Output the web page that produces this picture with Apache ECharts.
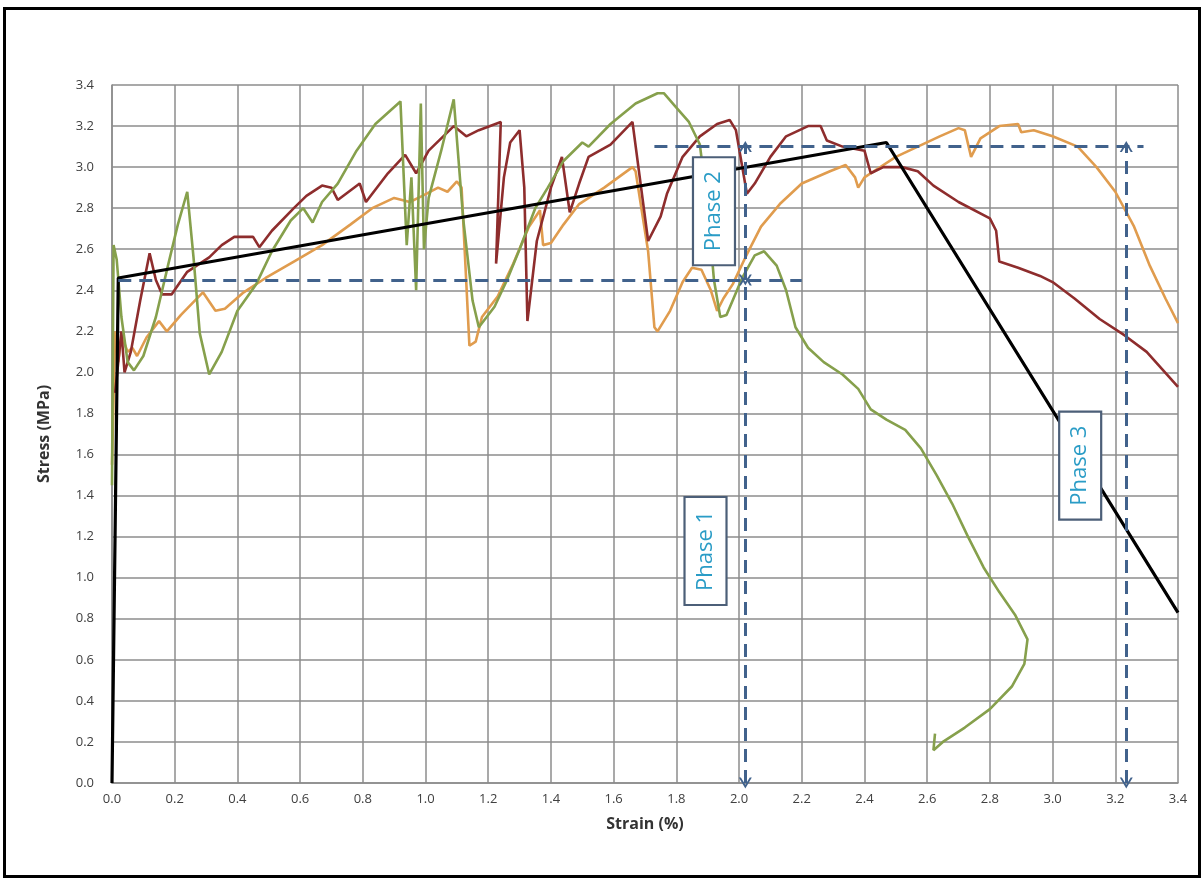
<!DOCTYPE html>
<html lang="en">
<head>
    <meta charset="UTF-8">
    <title>Stress - Strain</title>
    <style>
        body { margin: 0; background: #fff; }
    </style>
</head>
<body>
<script src="https://cdn.jsdelivr.net/npm/echarts@6/dist/echarts.min.js"></script>
<div id="main" style="width:1204px;height:878px;"></div>

<script type="text/javascript">
    // axis ticks
    var ticks = [0, 0.2, 0.4, 0.6, 0.8, 1.0, 1.2, 1.4, 1.6, 1.8, 2.0, 2.2, 2.4, 2.6, 2.8, 3.0, 3.2, 3.4];

    // specimen curves, [strain %, stress MPa]
    var greenCurve = [[0.0, 1.45], [0.005, 2.62], [0.015, 2.55], [0.03, 2.27], [0.05, 2.05], [0.07, 2.01], [0.10, 2.08],
        [0.14, 2.27], [0.18, 2.53], [0.21, 2.72], [0.24, 2.88], [0.26, 2.56], [0.28, 2.19], [0.31, 1.99], [0.35, 2.10],
        [0.40, 2.30], [0.46, 2.43], [0.51, 2.59], [0.57, 2.74], [0.61, 2.80], [0.64, 2.73], [0.67, 2.83], [0.72, 2.92],
        [0.78, 3.08], [0.84, 3.21], [0.92, 3.32], [0.94, 2.62], [0.955, 2.95], [0.97, 2.40], [0.985, 3.31], [0.995, 2.60],
        [1.01, 2.85], [1.05, 3.08], [1.09, 3.33], [1.12, 2.75], [1.15, 2.35], [1.17, 2.22], [1.22, 2.32], [1.26, 2.45],
        [1.30, 2.60], [1.35, 2.80], [1.39, 2.90], [1.44, 3.03], [1.50, 3.12], [1.52, 3.10], [1.59, 3.21], [1.67, 3.31],
        [1.74, 3.36], [1.76, 3.36], [1.80, 3.29], [1.84, 3.22], [1.875, 3.11], [1.90, 2.80], [1.92, 2.45], [1.94, 2.27],
        [1.96, 2.28], [2.01, 2.46], [2.05, 2.57], [2.08, 2.59], [2.12, 2.52], [2.15, 2.40], [2.18, 2.22], [2.22, 2.12],
        [2.27, 2.05], [2.33, 1.99], [2.38, 1.92], [2.42, 1.82], [2.47, 1.77], [2.53, 1.72], [2.58, 1.63], [2.63, 1.50],
        [2.68, 1.36], [2.73, 1.20], [2.78, 1.05], [2.83, 0.93], [2.88, 0.82], [2.92, 0.70], [2.91, 0.58], [2.87, 0.47],
        [2.80, 0.36], [2.72, 0.27], [2.65, 0.20], [2.62, 0.16], [2.625, 0.24]];

    var redCurve = [[0.01, 1.90], [0.03, 2.20], [0.04, 2.00], [0.06, 2.10], [0.09, 2.35], [0.12, 2.58], [0.14, 2.45],
        [0.16, 2.38], [0.19, 2.38], [0.24, 2.49], [0.31, 2.56], [0.35, 2.62], [0.39, 2.66], [0.45, 2.66], [0.47, 2.61],
        [0.51, 2.69], [0.58, 2.80], [0.62, 2.86], [0.67, 2.91], [0.70, 2.90], [0.72, 2.84], [0.79, 2.92], [0.81, 2.83],
        [0.88, 2.97], [0.935, 3.06], [0.97, 2.97], [1.01, 3.08], [1.09, 3.20], [1.13, 3.15], [1.17, 3.18], [1.24, 3.22],
        [1.225, 2.53], [1.25, 2.95], [1.27, 3.12], [1.30, 3.18], [1.315, 2.90], [1.325, 2.25], [1.355, 2.64], [1.40, 2.90],
        [1.435, 3.05], [1.46, 2.78], [1.49, 2.92], [1.52, 3.05], [1.59, 3.11], [1.66, 3.22], [1.71, 2.64], [1.75, 2.76],
        [1.77, 2.87], [1.82, 3.05], [1.875, 3.15], [1.93, 3.21], [1.97, 3.23], [1.99, 3.18], [2.025, 2.87], [2.05, 2.92],
        [2.10, 3.05], [2.15, 3.15], [2.22, 3.20], [2.26, 3.20], [2.28, 3.13], [2.33, 3.10], [2.40, 3.08], [2.42, 2.97],
        [2.46, 3.00], [2.52, 3.00], [2.57, 2.98], [2.62, 2.91], [2.70, 2.83], [2.80, 2.75], [2.82, 2.69], [2.83, 2.54],
        [2.89, 2.51], [2.96, 2.47], [3.00, 2.44], [3.07, 2.36], [3.15, 2.26], [3.23, 2.18], [3.30, 2.10], [3.40, 1.93]];

    var orangeCurve = [[0.0, 1.55], [0.01, 2.20], [0.02, 2.05], [0.03, 2.18], [0.05, 2.10], [0.065, 2.12], [0.08, 2.08],
        [0.11, 2.17], [0.15, 2.25], [0.175, 2.20], [0.22, 2.28], [0.29, 2.39], [0.33, 2.30], [0.36, 2.31], [0.42, 2.39],
        [0.49, 2.46], [0.58, 2.54], [0.67, 2.62], [0.76, 2.72], [0.83, 2.80], [0.90, 2.85], [0.95, 2.83], [0.99, 2.86],
        [1.04, 2.90], [1.07, 2.88], [1.10, 2.93], [1.115, 2.90], [1.14, 2.13], [1.16, 2.15], [1.18, 2.27], [1.23, 2.37],
        [1.28, 2.53], [1.33, 2.71], [1.365, 2.79], [1.375, 2.62], [1.40, 2.63], [1.44, 2.72], [1.49, 2.82], [1.57, 2.90],
        [1.66, 3.00], [1.67, 2.98], [1.71, 2.59], [1.73, 2.22], [1.74, 2.20], [1.78, 2.30], [1.82, 2.44], [1.85, 2.51],
        [1.88, 2.50], [1.91, 2.40], [1.93, 2.30], [1.95, 2.36], [1.98, 2.43], [2.02, 2.56], [2.07, 2.71], [2.13, 2.82],
        [2.20, 2.92], [2.29, 2.98], [2.34, 3.01], [2.37, 2.95], [2.38, 2.90], [2.40, 2.95], [2.43, 2.98], [2.50, 3.05],
        [2.57, 3.10], [2.64, 3.15], [2.70, 3.19], [2.72, 3.18], [2.74, 3.05], [2.77, 3.14], [2.83, 3.20], [2.89, 3.21],
        [2.90, 3.17], [2.94, 3.18], [3.00, 3.15], [3.08, 3.10], [3.14, 3.00], [3.20, 2.88], [3.26, 2.71], [3.31, 2.52],
        [3.36, 2.36], [3.40, 2.24]];

    // tri-linear model
    var modelLine = [[0, 0], [0.02, 2.46], [2.47, 3.12], [3.4, 0.83]];

    // dashed guide lines and phase arrows
    var guideLevels = [[0.02, 2.2, 2.45], [1.73, 3.29, 3.1]];      // [x from, x to, stress]
    var phaseArrows = [[2.02, 0, 2.45], [2.02, 2.45, 3.1], [3.235, 0, 3.1]]; // [strain, from, to]
    var phaseLabels = [['Phase 1', 1.893, 1.13], ['Phase 2', 1.92, 2.785], ['Phase 3', 3.088, 1.546]];

    var myChart = echarts.init(document.getElementById('main'));

    var gridColor = '#8c8c8c';
    var guideColor = '#41628c';
    var chevron = 'path://M0,10 L5,0 L10,10 L8.4,10 L5,3.4 L1.6,10 Z';

    var markData = [];
    guideLevels.forEach(function (g) {
        markData.push([{coord: [g[0], g[2]], symbol: 'none'}, {coord: [g[1], g[2]], symbol: 'none'}]);
    });
    phaseArrows.forEach(function (a) {
        markData.push([{coord: [a[0], a[1]]}, {coord: [a[0], a[2]]}]);
    });

    function curve(data, color) {
        return {
            type: 'line',
            data: data,
            showSymbol: false,
            symbol: 'none',
            smooth: false,
            lineStyle: {color: color, width: 2.6},
            z: 3
        };
    }

    var option = {
        backgroundColor: '#fff',
        animation: false,
        grid: {left: 112, right: 26, top: 85, bottom: 95, show: false},
        xAxis: {
            type: 'value', min: 0, max: 3.4, interval: 0.2,
            name: 'Strain (%)', nameLocation: 'middle', nameGap: 33,
            nameTextStyle: {fontFamily: 'Open Sans', fontWeight: 'bold', fontSize: 16, color: '#333'},
            axisLine: {show: true, lineStyle: {color: gridColor, width: 1.5}},
            axisTick: {show: false},
            axisLabel: {
                margin: 10, color: '#404040', fontFamily: 'Open Sans', fontSize: 13,
                formatter: function (v) { return v.toFixed(1); }
            },
            splitLine: {show: true, lineStyle: {color: gridColor, width: 1.5}}
        },
        yAxis: {
            type: 'value', min: 0, max: 3.4, interval: 0.2,
            name: 'Stress (MPa)', nameLocation: 'middle', nameGap: 60,
            nameTextStyle: {fontFamily: 'Open Sans', fontWeight: 'bold', fontSize: 16, color: '#333'},
            axisLine: {show: true, lineStyle: {color: gridColor, width: 1.5}},
            axisTick: {show: false},
            axisLabel: {
                margin: 18, color: '#404040', fontFamily: 'Open Sans', fontSize: 13,
                formatter: function (v) { return v.toFixed(1); }
            },
            splitLine: {show: true, lineStyle: {color: gridColor, width: 1.5}}
        },
        series: [
            curve(orangeCurve, '#e09c4e'),
            curve(redCurve, '#8e2d2d'),
            curve(greenCurve, '#86a04c'),
            {
                type: 'line',
                data: modelLine,
                symbol: 'none',
                lineStyle: {color: '#000', width: 3.2},
                z: 4
            },
            {
                type: 'line',
                data: [],
                markLine: {
                    silent: true,
                    animation: false,
                    symbol: [chevron, chevron],
                    symbolSize: [13, 11],
                    label: {show: false},
                    lineStyle: {color: guideColor, width: 3, type: [13, 8], opacity: 1},
                    emphasis: {disabled: true},
                    data: markData
                },
                z: 5
            }
        ],
        graphic: [{
            type: 'rect',
            shape: {x: 4.5, y: 8.5, width: 1195, height: 868},
            style: {fill: null, stroke: '#000', lineWidth: 3},
            silent: true
        }]
    };
    myChart.setOption(option);

    // boxed phase labels, placed in data coordinates
    var labelGraphics = phaseLabels.map(function (p) {
        var pos = myChart.convertToPixel({gridIndex: 0}, [p[1], p[2]]);
        return {
            type: 'group',
            x: pos[0], y: pos[1],
            rotation: Math.PI / 2,
            z: 100,
            children: [{
                type: 'rect',
                z: 100,
                shape: {x: -54, y: -21, width: 108, height: 42},
                style: {fill: '#fff', stroke: '#4c5f78', lineWidth: 2.2}
            }, {
                type: 'text',
                z: 101,
                style: {
                    text: p[0], x: 0, y: 0, align: 'center', verticalAlign: 'middle',
                    fill: '#2a9cc6', font: '22px "Open Sans"'
                }
            }]
        };
    });
    myChart.setOption({graphic: option.graphic.concat(labelGraphics)});
</script>
</body>
</html>
